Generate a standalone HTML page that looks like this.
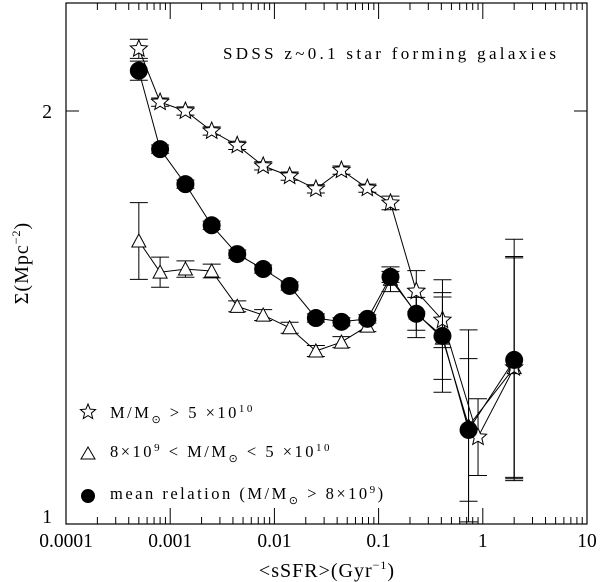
<!DOCTYPE html>
<html><head><meta charset="utf-8">
<style>
html,body{margin:0;padding:0;background:#fff;}
svg{display:block;font-family:"Liberation Serif",serif;}
</style></head>
<body>
<svg id="chart" width="600" height="582" viewBox="0 0 600 582" xmlns="http://www.w3.org/2000/svg">
<g id="axes"></g>
<g id="series"></g>
<text x="223" y="59" font-size="17" letter-spacing="3.3">SDSS z~0.1 star forming galaxies</text>
<text x="327" y="577" font-size="20" letter-spacing="1" text-anchor="middle">&lt;sSFR&gt;(Gyr<tspan font-size="12" dy="-8">−1</tspan><tspan dy="8">)</tspan></text>
<text transform="translate(28,263) rotate(-90)" font-size="20" letter-spacing="1" text-anchor="middle">Σ(Mpc<tspan font-size="12" dy="-8">−2</tspan><tspan dy="8">)</tspan></text>
<g font-size="16.5" letter-spacing="2.5">
 <g><path id="lstar" fill="none" stroke="#000" stroke-width="1"/><text x="110" y="418">M/M<tspan font-size="11" dy="5">⊙</tspan><tspan dy="-5"> &gt; 5 ×10</tspan><tspan font-size="11" dy="-6">10</tspan></text></g>
 <g><polygon points="81,459 88,447 95,459" fill="none" stroke="#000"/><text x="110" y="457">8×10<tspan font-size="11" dy="-6">9</tspan><tspan dy="6"> &lt; M/M</tspan><tspan font-size="11" dy="5">⊙</tspan><tspan dy="-5"> &lt; 5 ×10</tspan><tspan font-size="11" dy="-6">10</tspan></text></g>
 <g><circle cx="88" cy="496" r="7" fill="#000"/><text x="110" y="499">mean relation (M/M<tspan font-size="11" dy="5">⊙</tspan><tspan dy="-5"> &gt; 8×10</tspan><tspan font-size="11" dy="-6">9</tspan><tspan dy="6">)</tspan></text></g>
</g>
</svg>
<script>
const xVals=[0.0005,0.0008,0.0014,0.0025,0.0044,0.0078,0.014,0.025,0.044,0.078,0.13,0.23,0.41,0.73,2.0];
const starX=[0.0005,0.0008,0.0014,0.0025,0.0044,0.0078,0.014,0.025,0.044,0.078,0.13,0.23,0.41,0.9,2.0];
const starY=[2.22,2.03,2.0,1.934,1.888,1.824,1.793,1.755,1.811,1.757,1.714,1.478,1.408,1.157,1.30];
const starErrDex=[0.007,0.003,0.003,0.003,0.003,0.003,0.003,0.003,0.003,0.003,0.005,0.015,0.02,0.028,0.08];
const triY=[1.608,1.526,1.534,1.529,1.441,1.42,1.39,1.337,1.357,1.394,1.508,1.425,1.366,1.179,1.30];
const triErrDex=[0.028,0.011,0.006,0.005,0.004,0.004,0.004,0.004,0.004,0.004,0.009,0.018,0.03,0.07,0.081];
const circY=[2.14,1.876,1.769,1.651,1.573,1.534,1.491,1.413,1.404,1.411,1.514,1.423,1.371,1.171,1.317];
const circErrDex=[0.007,0.003,0.003,0.003,0.003,0.003,0.003,0.003,0.003,0.003,0.004,0.012,0.041,0.052,0.088];
const xTickLabels=["0.0001","0.001","0.01","0.1","1","10"];
const yTickLabels=["1","2"];
const NS="http://www.w3.org/2000/svg";
const L=66,R=587,T=3,B=524;
function xs(v){return L+(Math.log10(v)+4)*(R-L)/5;}
const yPerDec=(B-111)/Math.log10(2);
function ys(v){return B-Math.log10(v)*yPerDec;}
function mk(tag,attrs,parent){const e=document.createElementNS(NS,tag);for(const k in attrs)e.setAttribute(k,attrs[k]);parent.appendChild(e);return e;}
const ax=document.getElementById('axes');
const frame=mk('rect',{x:L,y:T,width:R-L,height:B-T,fill:'none',stroke:'#000','stroke-width':1.2},ax);


for(let d=0;d<5;d++){for(let m=1;m<=10;m++){if(m===1&&d>0)continue;const v=Math.pow(10,d-4)*m;const x=xs(v);const len=(m===1||m===10)?16:7;
 mk('line',{x1:x,x2:x,y1:B,y2:B-len,stroke:'#000'},ax);mk('line',{x1:x,x2:x,y1:T,y2:T+len,stroke:'#000'},ax);}}
xTickLabels.forEach((s,i)=>{const t=mk('text',{x:L+i*(R-L)/5,y:B+23,'font-size':19.5,'text-anchor':'middle'},ax);t.textContent=s;
 
 });
[2].forEach(v=>{mk('line',{x1:L,x2:L+13,y1:ys(v),y2:ys(v),stroke:'#000'},ax);mk('line',{x1:R,x2:R-13,y1:ys(v),y2:ys(v),stroke:'#000'},ax);});
yTickLabels.forEach((s,i)=>{const v=Number(s);const t=mk('text',{x:L-14,y:ys(v)+(v===1?-1:7),'font-size':19.5,'text-anchor':'end'},ax);t.textContent=s;
 
 });
function starPath(cx,cy,r){let p='';for(let i=0;i<10;i++){const a=-Math.PI/2+i*Math.PI/5;const rr=i%2?r*0.45:r;p+=(i?'L':'M')+(cx+rr*Math.cos(a)).toFixed(1)+','+(cy+rr*Math.sin(a)).toFixed(1);}return p+'Z';}
document.getElementById('lstar').setAttribute('d',starPath(88,412,8));
const sg=document.getElementById('series');
function drawSeries(name,X,Y,E,marker){
 const g=mk('g',{},sg);
 
 
 const pts=X.map((x,i)=>xs(x).toFixed(1)+','+ys(Y[i]).toFixed(1)).join(' ');
 mk('polyline',{points:pts,fill:'none',stroke:'#000','stroke-width':1},g);
 X.forEach((x,i)=>{const cx=xs(x),cy=ys(Y[i]);const y1=ys(Y[i]*Math.pow(10,E[i])),y2=ys(Y[i]/Math.pow(10,E[i]));
  const eb=mk('path',{d:`M${cx},${y1}V${y2}M${cx-9},${y1}H${cx+9}M${cx-9},${y2}H${cx+9}`,stroke:'#000',fill:'none'},g);
  
  
  let m;
  if(marker==='star')m=mk('path',{d:starPath(cx,cy,9),fill:'#fff',stroke:'#000'},g);
  else if(marker==='tri')m=mk('polygon',{points:`${cx-7},${cy+6} ${cx},${cy-7} ${cx+7},${cy+6}`,fill:'#fff',stroke:'#000'},g);
  else m=mk('circle',{cx:cx,cy:cy,r:9,fill:'#000'},g);
  
  
 });
}
drawSeries('series-low-mass',xVals,triY,triErrDex,'tri');
drawSeries('series-high-mass',starX,starY,starErrDex,'star');
drawSeries('series-mean-relation',xVals,circY,circErrDex,'circle');
</script>
</body></html>
